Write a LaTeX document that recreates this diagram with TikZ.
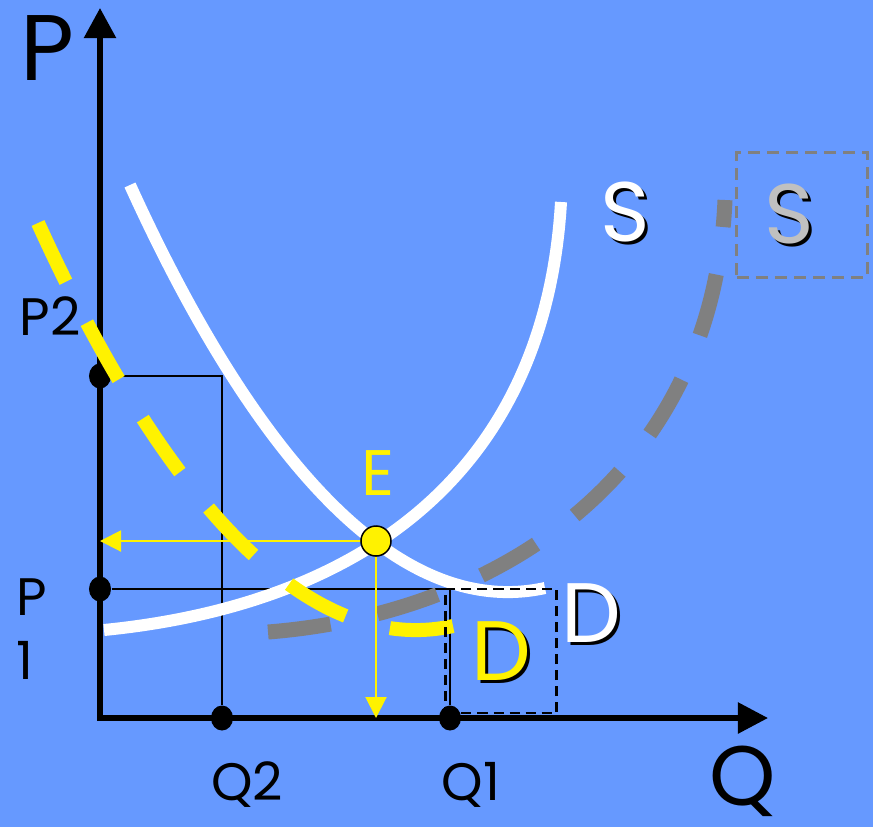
\documentclass[tikz,border=0pt]{standalone}
\usepackage{fontspec}
\setmainfont{Poppins}
\usepackage{tikz}
\usetikzlibrary{arrows.meta,positioning,shapes.geometric}
\definecolor{bgblue}{RGB}{102,153,255}
\definecolor{curvegray}{RGB}{128,128,128}
\definecolor{labelgray}{RGB}{192,192,192}

\begin{document}
\begin{tikzpicture}[x=0.01cm, y=-0.01cm,
    axis/.style={line width=0.055cm, {Triangle[length=0.3cm, width=0.31cm]}-{Triangle[length=0.3cm, width=0.3cm]}},
    guide/.style={line width=0.025cm},
    dot/.style={ellipse, fill=black, inner sep=0pt, minimum width=0.22cm, minimum height=0.25cm},
    curve/.style={line width=0.12cm, white},
    newsupply/.style={line width=0.15cm, curvegray, dash pattern=on 0.63cm off 0.48cm},
    newdemand/.style={line width=0.14cm, yellow, dash pattern=on 0.65cm off 0.46cm},
    trace/.style={yellow, line width=0.02cm, -{Triangle[length=0.21cm, width=0.21cm]}},
    eqdot/.style={circle, fill=yellow, draw=black, line width=0.015cm, minimum size=0.3cm, inner sep=0pt},
    axlab/.style={anchor=base, inner sep=0pt, font=\fontsize{26.5}{32}\selectfont},
    ticklab/.style={anchor=base, inner sep=0pt, font=\fontsize{15}{18.2}\selectfont},
    bigtag/.style={anchor=base, inner sep=0pt, font=\fontsize{24}{28}\selectfont},
    tagbox/.style={minimum width=1.11cm, minimum height=1.24cm, inner sep=0pt}
]
\fill[bgblue] (0,0) rectangle (873,827);
\useasboundingbox (0,0) rectangle (873,827);
\coordinate (O) at (100,718);
\coordinate (ptip) at (100,8);
\coordinate (qtip) at (768,718);
\draw[axis] (ptip) -- (O) -- (qtip);
\node[dot] (p2) at (100,376) {};
\node[dot] (p1) at (100,589) {};
\node[dot] (q2) at (222,718) {};
\node[dot] (q1) at (450,718) {};
\draw[guide] (p2) -| (q2);
\draw[guide] (p1) -| (q1);
\draw[curve] (104,630) .. controls (355,605) and (545,478) .. (561,202);
\draw[curve] (130,185) .. controls (240,427) and (385,623) .. (545,588);
\draw[newsupply] (268,632) .. controls (498,614) and (713,475) .. (725,200);
\draw[newdemand] (38,223) .. controls (148,465) and (293,661) .. (453,626);
\coordinate (eq) at (376,541);
\draw[trace] (eq) -- (eq -| O);
\draw[trace] (eq) -- (eq |- O);
\node[eqdot] (E) at (eq) {};
\node[axlab] (plab) at (47,80) {P};
\node[axlab, font=\fontsize{24}{28}\selectfont] (qlab) at (743,805) {Q};
\node[ticklab] (p2lab) at (50,335) {P2};
\node[ticklab, anchor=north west, align=left] (p1lab) at (16,578) {P\\1};
\node[ticklab] (q2lab) at (247,800) {Q2};
\node[ticklab] (q1lab) at (471,800) {Q1};
\node[anchor=base, inner sep=0pt, text=yellow, font=\fontsize{18.3}{22}\selectfont] (elab) at (378,495) {E};
\node[bigtag, text=black] at (628,244) {S};
\node[bigtag, text=white] (slab) at (625,241) {S};
\node[bigtag, text=black] at (792,246) {S};
\node[bigtag, text=labelgray] (s2lab) at (789,243) {S};
\node[bigtag, text=black] at (594,645) {D};
\node[bigtag, text=white] (dlab) at (591,642) {D};
\node[bigtag, text=black] at (504,683) {D};
\node[bigtag, text=yellow] (d2lab) at (501,680) {D};
\node[tagbox, draw=black, line width=0.025cm, dash pattern=on 0.1cm off 0.06cm] (d2box) at (501,651) {};
\node[tagbox, draw=curvegray, minimum width=1.3cm, line width=0.03cm, dash pattern=on 0.12cm off 0.07cm] (s2box) at (802,215) {};
\end{tikzpicture}
\end{document}
